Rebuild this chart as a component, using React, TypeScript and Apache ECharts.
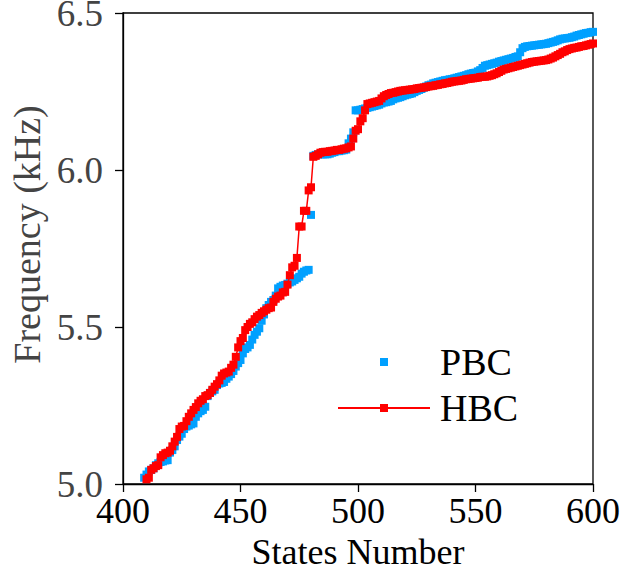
import React, { useEffect, useRef } from "react";
import * as echarts from "echarts";

const xTicks = [400, 450, 500, 550, 600];
const yTicks = [5.0, 5.5, 6.0, 6.5];
const xAxisName = "States Number";
const yAxisName = "Frequency (kHz)";
const seriesNames = ["PBC", "HBC"];

const pbcFirstState = 409;
const pbcValues = [
  5.02, 5.03, 5.04, 5.045, 5.05, 5.06, 5.066, 5.07, 5.072, 5.075,
  5.076, 5.1, 5.108, 5.12, 5.14, 5.151, 5.16, 5.175, 5.183, 5.186,
  5.19, 5.193, 5.214, 5.225, 5.232, 5.236, 5.246, 5.28, 5.29, 5.295,
  5.3, 5.315, 5.32, 5.322, 5.325, 5.335, 5.342, 5.35, 5.36, 5.374,
  5.385, 5.395, 5.416, 5.43, 5.435, 5.443, 5.46, 5.475, 5.485, 5.496,
  5.52, 5.54, 5.56, 5.57, 5.58, 5.586, 5.6, 5.623, 5.628, 5.632,
  5.634, 5.638, 5.642, 5.645, 5.65, 5.655, 5.66, 5.67, 5.676, 5.68,
  5.682, 5.857, 6.045, 6.048, 6.05, 6.05, 6.05, 6.05, 6.05, 6.052,
  6.055, 6.057, 6.06, 6.06, 6.062, 6.063, 6.065, 6.085, 6.1, 6.12,
  6.19, 6.19, 6.192, 6.194, 6.196, 6.198, 6.2, 6.202, 6.204, 6.206,
  6.208, 6.212, 6.215, 6.216, 6.218, 6.22, 6.225, 6.228, 6.23, 6.232,
  6.235, 6.238, 6.24, 6.242, 6.244, 6.248, 6.252, 6.255, 6.258, 6.262,
  6.266, 6.27, 6.272, 6.276, 6.278, 6.28, 6.282, 6.284, 6.286, 6.287,
  6.289, 6.29, 6.292, 6.294, 6.296, 6.298, 6.3, 6.302, 6.305, 6.307,
  6.309, 6.31, 6.314, 6.318, 6.325, 6.332, 6.334, 6.336, 6.338, 6.34,
  6.342, 6.345, 6.347, 6.349, 6.351, 6.353, 6.355, 6.357, 6.36, 6.362,
  6.375, 6.388, 6.392, 6.394, 6.395, 6.396, 6.397, 6.398, 6.399, 6.4,
  6.401, 6.402, 6.404, 6.406, 6.408, 6.41, 6.413, 6.416, 6.418, 6.419,
  6.42, 6.421, 6.423, 6.425, 6.428, 6.43, 6.432, 6.434, 6.436, 6.437,
  6.439, 6.44,
];

const hbcFirstState = 410;
const hbcValues = [
  5.015, 5.02, 5.045, 5.05, 5.057, 5.06, 5.085, 5.092, 5.098, 5.1,
  5.106, 5.12, 5.135, 5.15, 5.175, 5.183, 5.185, 5.2, 5.214, 5.225,
  5.236, 5.245, 5.257, 5.265, 5.27, 5.28, 5.283, 5.29, 5.3, 5.31,
  5.318, 5.33, 5.345, 5.352, 5.355, 5.358, 5.37, 5.38, 5.405, 5.435,
  5.455, 5.465, 5.49, 5.5, 5.51, 5.515, 5.525, 5.533, 5.538, 5.545,
  5.55, 5.555, 5.56, 5.562, 5.58, 5.59, 5.597, 5.6, 5.61, 5.612,
  5.635, 5.665, 5.69, 5.695, 5.72, 5.82, 5.82, 5.87, 5.87, 5.935,
  5.945, 6.042, 6.045, 6.05, 6.055, 6.057, 6.058, 6.058, 6.06, 6.061,
  6.062, 6.064, 6.064, 6.066, 6.068, 6.069, 6.072, 6.075, 6.1, 6.125,
  6.13, 6.155, 6.165, 6.19, 6.21, 6.212, 6.214, 6.216, 6.218, 6.22,
  6.228, 6.235, 6.239, 6.242, 6.245, 6.246, 6.248, 6.25, 6.252, 6.253,
  6.254, 6.255, 6.256, 6.257, 6.258, 6.26, 6.261, 6.262, 6.263, 6.264,
  6.266, 6.267, 6.268, 6.27, 6.271, 6.273, 6.274, 6.276, 6.277, 6.279,
  6.281, 6.282, 6.283, 6.284, 6.285, 6.287, 6.289, 6.29, 6.291, 6.292,
  6.293, 6.294, 6.296, 6.297, 6.297, 6.298, 6.3, 6.302, 6.305, 6.308,
  6.312, 6.316, 6.32, 6.322, 6.324, 6.326, 6.328, 6.33, 6.332, 6.334,
  6.336, 6.338, 6.34, 6.342, 6.344, 6.345, 6.346, 6.347, 6.348, 6.349,
  6.35, 6.352, 6.355, 6.358, 6.362, 6.366, 6.37, 6.375, 6.378, 6.382,
  6.385, 6.387, 6.389, 6.39, 6.392, 6.394, 6.395, 6.397, 6.399, 6.401,
  6.403,
];

const FONT = "'Liberation Serif', 'Times New Roman', serif";

export default function App() {
  const ref = useRef<HTMLDivElement>(null);
  useEffect(() => {
    if (!ref.current) return;
    const chart = echarts.init(ref.current, undefined, { renderer: "svg" });
    const pbcData = pbcValues.map((v, i) => [pbcFirstState + i, v]);
    const hbcData = hbcValues.map((v, i) => [hbcFirstState + i, v]);
    chart.setOption({
      animation: false,
      backgroundColor: "#fff",
      grid: {
        left: 123,
        right: 31,
        top: 13,
        bottom: 93,
        containLabel: false,
        outerBoundsMode: "none",
        show: true,
        borderColor: "#000",
        borderWidth: 1.3,
        backgroundColor: "transparent",
      },
      legend: {
        orient: "vertical",
        left: 332,
        top: 338,
        itemWidth: 92,
        itemHeight: 10,
        itemGap: 8,
        data: seriesNames,
        textStyle: {
          fontFamily: FONT,
          fontSize: 38,
          color: "#000",
          padding: [0, 0, 0, 5],
        },
      },
      xAxis: {
        type: "value",
        min: xTicks[0],
        max: xTicks[xTicks.length - 1],
        interval: 50,
        name: xAxisName,
        nameLocation: "middle",
        nameGap: 50,
        nameTextStyle: { fontFamily: FONT, fontSize: 36, color: "#000" },
        axisLine: { show: true, lineStyle: { color: "#000", width: 1.3 } },
        axisTick: { show: true, inside: false, length: 8, lineStyle: { color: "#000", width: 1.3 } },
        axisLabel: { fontFamily: FONT, fontSize: 36, color: "#000", margin: 9 },
        splitLine: { show: false },
      },
      yAxis: {
        type: "value",
        min: yTicks[0],
        max: yTicks[yTicks.length - 1],
        interval: 0.5,
        name: yAxisName,
        nameLocation: "middle",
        nameGap: 76,
        nameTextStyle: {
          fontFamily: FONT,
          fontSize: 38,
          color: "#444",
          padding: [0, 0, 0, 28],
        },
        axisLine: { show: true, lineStyle: { color: "#000", width: 1.3 } },
        axisTick: { show: true, inside: false, length: 8, lineStyle: { color: "#000", width: 1.3 } },
        axisLabel: {
          fontFamily: FONT,
          fontSize: 37,
          color: "#444",
          margin: 20,
          formatter: (v: number) => v.toFixed(1),
        },
        splitLine: { show: false },
      },
      series: [
        {
          name: seriesNames[0],
          type: "line",
          data: pbcData,
          symbol: "rect",
          symbolSize: 8,
          showSymbol: true,
          showAllSymbol: true,
          itemStyle: { color: "#00A0FF" },
          lineStyle: { width: 0, opacity: 0 },
          z: 2,
        },
        {
          name: seriesNames[1],
          type: "line",
          data: hbcData,
          symbol: "rect",
          symbolSize: 8,
          showSymbol: true,
          showAllSymbol: true,
          itemStyle: { color: "#FF0000" },
          lineStyle: { width: 1.5, color: "#FF0000" },
          z: 3,
        },
      ],
    });
    return () => chart.dispose();
  }, []);
  return (
    <div
      ref={ref}
      style={{ position: "fixed", left: 0, top: 0, width: 624, height: 577 }}
    />
  );
}
